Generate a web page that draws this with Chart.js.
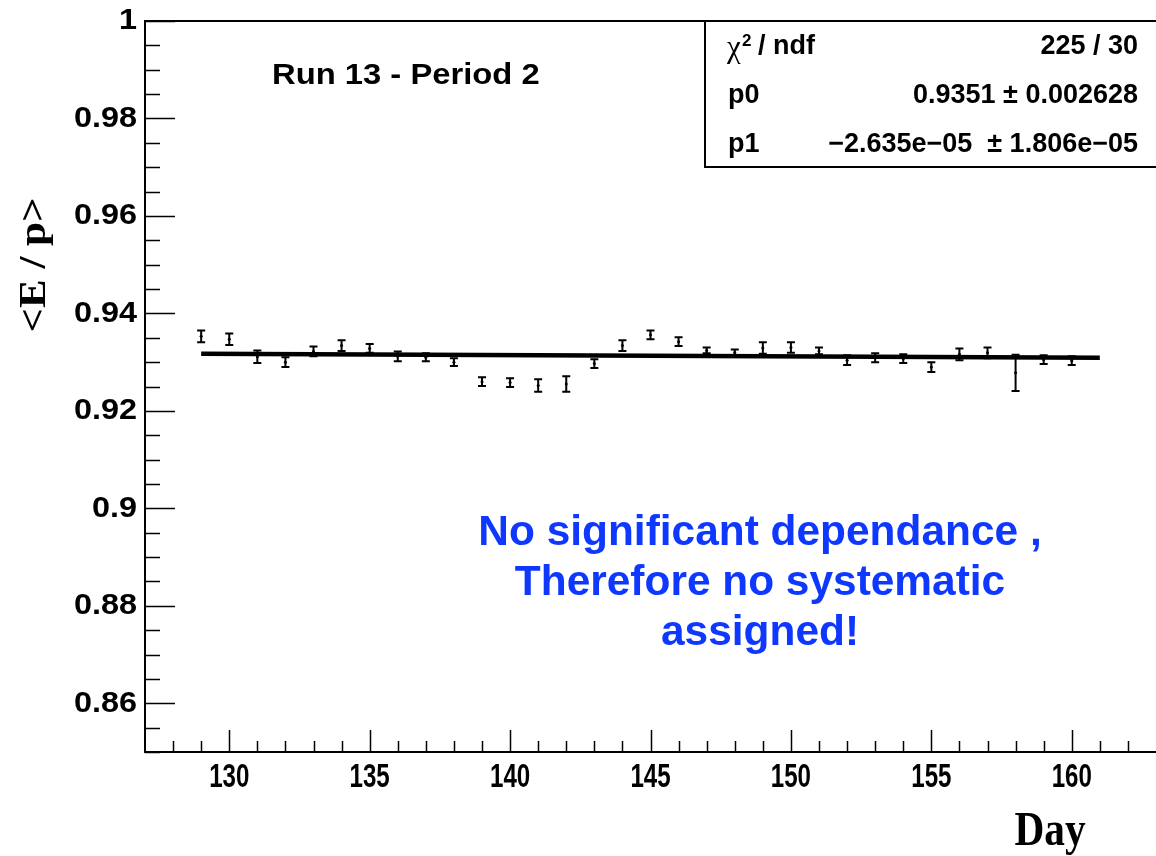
<!DOCTYPE html>
<html>
<head>
<meta charset="utf-8">
<script src="https://cdn.jsdelivr.net/npm/chart.js@4/dist/chart.umd.min.js"></script>
<style>
  html, body { margin: 0; padding: 0; background: #fff; overflow: hidden; }
  #wrap { width: 1160px; height: 856px; }
</style>
</head>
<body>
<div id="wrap"><canvas id="c" width="1160" height="856"></canvas></div>
<script>
// values
const days = [129, 130, 131, 132, 133, 134, 135, 136, 137, 138, 139, 140, 141, 142, 143, 144,
              145, 146, 147, 148, 149, 150, 151, 152, 153, 154, 155, 156, 157, 158, 159, 160];
const eOverP = [0.9353, 0.9347, 0.9311, 0.9300, 0.9322, 0.9334, 0.9328, 0.9312, 0.9310, 0.9300,
                0.9260, 0.9258, 0.9252, 0.9255, 0.9297, 0.9334, 0.9356, 0.9342, 0.9324, 0.9320,
                0.9329, 0.9330, 0.9323, 0.9304, 0.9309, 0.9307, 0.9290, 0.9316, 0.9319, 0.9278,
                0.9305, 0.9303];
const eOverPErr = [0.0012, 0.0012, 0.0013, 0.0010, 0.0010, 0.0011, 0.0009, 0.0010, 0.0008, 0.0008,
                   0.0009, 0.0009, 0.0013, 0.0016, 0.0009, 0.0011, 0.0009, 0.0009, 0.0006, 0.0006,
                   0.0012, 0.0011, 0.0007, 0.0010, 0.0009, 0.0009, 0.0010, 0.0012, 0.0011, 0.0037,
                   0.0009, 0.0009];
const fitDays = [129, 161];
const fitVals = [0.9317, 0.9309];

const xTicks = [130, 135, 140, 145, 150, 155, 160];
const yTicks = [0.86, 0.88, 0.9, 0.92, 0.94, 0.96, 0.98, 1];

const statLabels = ['chi2 / ndf', 'p0', 'p1'];
const statValues = ['225 / 30', '0.9351 \u00b1 0.002628', '\u22122.635e\u221205  \u00b1 1.806e\u221205'];

const blueNote = ['No significant dependance ,', 'Therefore no systematic', 'assigned!'];

function txt(ctx, s, x, y, font, o = {}) {
  ctx.save();
  ctx.translate(x, y);
  if (o.rot) ctx.rotate(o.rot);
  ctx.scale(o.sx || 1, o.sy || 1);
  ctx.font = font;
  ctx.textAlign = o.align || 'left';
  ctx.textBaseline = 'middle';
  ctx.fillStyle = o.color || '#000';
  ctx.fillText(s, 0, 0);
  ctx.restore();
}

const rootStyle = {
  id: 'rootStyle',
  afterDatasetsDraw(chart) {
    const { ctx, scales: { x, y } } = chart;
    // error bars
    ctx.save();
    ctx.strokeStyle = '#000';
    ctx.lineWidth = 2;
    days.forEach((d, i) => {
      const px = x.getPixelForValue(d);
      const lo = y.getPixelForValue(eOverP[i] - eOverPErr[i]);
      const hi = y.getPixelForValue(eOverP[i] + eOverPErr[i]);
      ctx.beginPath();
      ctx.moveTo(px, lo); ctx.lineTo(px, hi);
      ctx.moveTo(px - 4, lo); ctx.lineTo(px + 4, lo);
      ctx.moveTo(px - 4, hi); ctx.lineTo(px + 4, hi);
      ctx.stroke();
    });
    ctx.restore();
  },
  afterDraw(chart) {
    const { ctx, chartArea: a, scales: { x, y } } = chart;
    ctx.save();
    ctx.strokeStyle = '#000';
    ctx.lineWidth = 2;
    // frame
    ctx.beginPath();
    ctx.moveTo(a.right + 5, a.top); ctx.lineTo(a.left, a.top);
    ctx.lineTo(a.left, a.bottom); ctx.lineTo(a.right + 5, a.bottom);
    ctx.stroke();
    // y ticks (minor every 0.005)
    ctx.lineWidth = 1.5;
    ctx.beginPath();
    for (let k = 0; k <= 30; k++) {
      const v = 0.85 + k * 0.005;
      const py = Math.round(y.getPixelForValue(v)) + 0.5;
      const major = yTicks.some(t => Math.abs(t - v) < 1e-6);
      ctx.moveTo(a.left, py); ctx.lineTo(a.left + (major ? 30 : 15), py);
    }
    // x ticks (minor every day)
    for (let d = 128; d <= 162; d++) {
      const px = Math.round(x.getPixelForValue(d)) + 0.5;
      const major = xTicks.includes(d);
      ctx.moveTo(px, a.bottom); ctx.lineTo(px, a.bottom - (major ? 22 : 11));
    }
    ctx.stroke();
    ctx.restore();

    // tick labels
    yTicks.forEach(v => {
      txt(ctx, String(v), a.left - 8, y.getPixelForValue(v),
          'bold 30px "Liberation Sans", Arial, sans-serif', { align: 'right', sx: 1.08 });
    });
    xTicks.forEach(v => {
      txt(ctx, String(v), x.getPixelForValue(v), a.bottom + 26,
          'bold 33px "Liberation Sans", Arial, sans-serif', { align: 'center', sx: 0.73 });
    });

    // titles
    txt(ctx, 'Run 13 - Period 2', 272, 76, 'bold 29px "Liberation Sans", Arial, sans-serif', { sx: 1.13 });
    txt(ctx, '<E / p>', 35, 265, 'bold 38px "Liberation Serif", "Times New Roman", serif',
        { rot: -Math.PI / 2, align: 'center', sx: 1.13 });
    txt(ctx, 'Day', 1050, 833, 'bold 48px "Liberation Serif", "Times New Roman", serif',
        { align: 'center', sx: 0.86 });
    blueNote.forEach((s, i) => {
      txt(ctx, s, 760, 533 + i * 50, 'bold 42px "Liberation Sans", Arial, sans-serif',
          { align: 'center', color: '#0f38ff', sx: 1.01 });
    });

    // stats box
    ctx.save();
    ctx.fillStyle = '#fff';
    ctx.strokeStyle = '#000';
    ctx.lineWidth = 2;
    ctx.fillRect(705, a.top, 470, 146);
    ctx.strokeRect(705, a.top, 470, 146);
    ctx.restore();
    const sf = 'bold 27px "Liberation Sans", Arial, sans-serif';
    statLabels.forEach((lab, i) => {
      const ry = 47 + i * 49;
      if (i === 0) {
        txt(ctx, '\u03c7', 727, ry + 2, '31px "Liberation Serif", serif');
        txt(ctx, '2', 742, ry - 6, 'bold 17px "Liberation Sans", Arial, sans-serif');
        txt(ctx, '/ ndf', 758, ry, sf);
      } else {
        txt(ctx, lab, 728, ry, sf);
      }
      txt(ctx, statValues[i], 1138, ry, sf, { align: 'right' });
    });
  }
};

new Chart(document.getElementById('c'), {
  type: 'scatter',
  data: {
    datasets: [
      {
        data: days.map((d, i) => ({ x: d, y: eOverP[i] })),
        pointRadius: 1.5,
        pointBackgroundColor: '#000',
        pointBorderWidth: 0
      },
      {
        data: fitDays.map((d, i) => ({ x: d, y: fitVals[i] })),
        showLine: true,
        borderColor: '#000',
        borderWidth: 4.5,
        pointRadius: 0
      }
    ]
  },
  options: {
    responsive: false,
    animation: false,
    layout: { padding: { top: 21, left: 0, right: 0, bottom: 0 } },
    plugins: { legend: { display: false }, tooltip: { enabled: false } },
    scales: {
      x: {
        type: 'linear', min: 127, max: 163,
        afterFit(s) { s.height = 104; },
        afterBuildTicks(s) { s.ticks = xTicks.map(v => ({ value: v })); },
        grid: { display: false },
        border: { display: false },
        ticks: { display: false }
      },
      y: {
        type: 'linear', min: 0.85, max: 1,
        afterFit(s) { s.width = 145; },
        afterBuildTicks(s) { s.ticks = yTicks.map(v => ({ value: v })); },
        grid: { display: false },
        border: { display: false },
        ticks: { display: false }
      }
    }
  },
  plugins: [rootStyle]
});
</script>
</body>
</html>
